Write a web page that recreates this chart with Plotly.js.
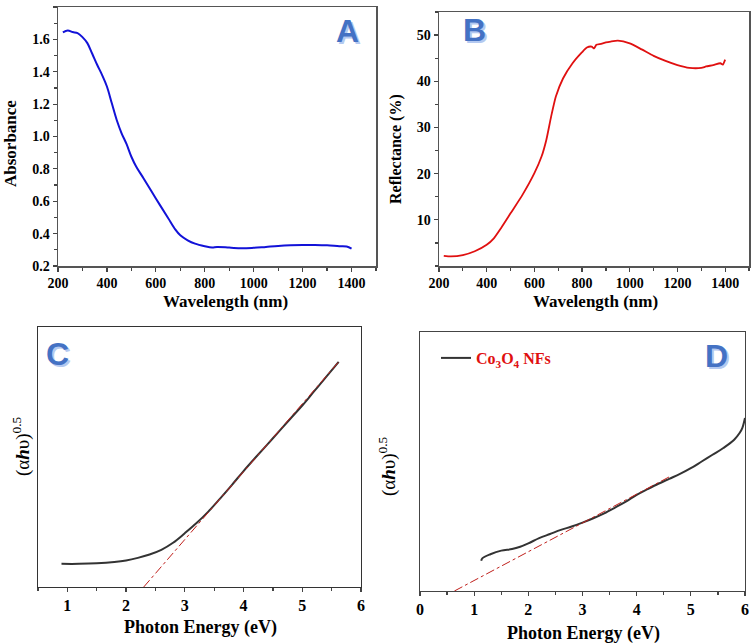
<!DOCTYPE html>
<html>
<head>
<meta charset="utf-8">
<script src="https://cdn.plot.ly/plotly-3.0.1.min.js"></script>
<style>html,body{margin:0;padding:0;background:#fff;}#chart{width:756px;height:644px;}</style>
</head>
<body>
<div id="chart"></div>
<script>
// Panel A: absorbance vs wavelength
const wavelengthA = [220,240,260,280,300,320,340,360,380,400,420,440,460,480,500,520,550,600,650,680,700,730,760,800,830,850,900,950,1000,1050,1100,1150,1200,1250,1300,1350,1380,1400];
const absorbanceA = [1.643,1.655,1.645,1.639,1.614,1.577,1.511,1.443,1.381,1.309,1.205,1.102,1.020,0.954,0.875,0.813,0.741,0.617,0.497,0.425,0.390,0.359,0.338,0.322,0.314,0.318,0.314,0.309,0.312,0.318,0.324,0.328,0.330,0.330,0.328,0.322,0.320,0.307];

// Panel B: reflectance vs wavelength
const wavelengthB = [220,250,300,350,400,430,460,500,550,600,630,650,670,690,720,760,800,820,840,850,860,880,900,920,950,1000,1050,1100,1150,1200,1250,1300,1320,1350,1380,1390,1400];
const reflectanceB = [2.2,2.07,2.36,3.2,4.6,6.0,8.2,11.4,15.4,20.1,23.7,27.3,32.3,36.7,40.6,43.9,46.3,47.3,47.5,47.1,47.9,48.1,48.4,48.6,48.8,48.2,46.9,45.5,44.4,43.5,42.9,42.9,43.2,43.5,43.9,43.6,44.7];

// Panel C: Tauc plot
const energyC = [0.9,1.2,1.5,1.8,2.0,2.2,2.4,2.6,2.8,3.0,3.2,3.4,3.6,3.8,4.0,4.2,4.5,4.8,5.0,5.2,5.4,5.62];
const taucC = [0.089,0.089,0.091,0.096,0.102,0.112,0.125,0.143,0.170,0.207,0.246,0.290,0.340,0.392,0.446,0.497,0.572,0.648,0.698,0.752,0.806,0.866];
const fitEnergyC = [2.3,5.62];
const fitTaucC = [0.0,0.866];

// Panel D: Tauc plot with legend
const energyD = [1.13,1.15,1.3,1.5,1.7,1.85,2.0,2.2,2.4,2.6,2.8,3.0,3.2,3.4,3.6,3.8,4.0,4.2,4.4,4.6,4.8,5.0,5.2,5.4,5.6,5.8,5.9,5.95,6.0];
const taucD = [0.117,0.126,0.142,0.156,0.162,0.171,0.184,0.204,0.220,0.236,0.249,0.264,0.281,0.300,0.322,0.345,0.371,0.393,0.414,0.433,0.452,0.474,0.500,0.526,0.552,0.584,0.610,0.629,0.668];
const fitEnergyD = [0.635,4.64];
const fitTaucD = [0.0,0.445];

// Tick labels
const wavelengthTicks = [200,400,600,800,1000,1200,1400];
const absorbanceTicks = [0.2,0.4,0.6,0.8,1.0,1.2,1.4,1.6,1.8];
const absorbanceTickText = ['0.2','0.4','0.6','0.8','1.0','1.2','1.4','1.6','1.8'];
const reflectanceTicks = [10,20,30,40,50];
const energyTicksC = [1,2,3,4,5,6];
const energyTicksD = [0,1,2,3,4,5,6];

const legendNameD = 'Co<sub>3</sub>O<sub>4</sub> NFs';
const panelLetters = ['A','B','C','D'];

const W = 756, H = 644;
const px = v => v / W;
const py = v => 1 - v / H;
const serif = 'Liberation Serif';

const traces = [
  {x: wavelengthA, y: absorbanceA, xaxis:'x', yaxis:'y', mode:'lines', line:{color:'#1212d8', width:2, shape:'spline'}, showlegend:false},
  {x: wavelengthB, y: reflectanceB, xaxis:'x2', yaxis:'y2', mode:'lines', line:{color:'#e01010', width:1.8, shape:'spline', smoothing:0.6}, showlegend:false},
  {x: energyC, y: taucC, xaxis:'x3', yaxis:'y3', mode:'lines', line:{color:'#333333', width:2, shape:'spline'}, showlegend:false},
  {x: fitEnergyC, y: fitTaucC, xaxis:'x3', yaxis:'y3', mode:'lines', line:{color:'#c0201c', width:1, dash:'dashdot'}, showlegend:false},
  {x: energyD, y: taucD, xaxis:'x4', yaxis:'y4', mode:'lines', name: legendNameD, line:{color:'#333333', width:2, shape:'spline'}, showlegend:true},
  {x: fitEnergyD, y: fitTaucD, xaxis:'x4', yaxis:'y4', mode:'lines', line:{color:'#c0201c', width:1, dash:'dashdot'}, showlegend:false}
];

function tf(size){ return {family:serif, size:size, color:'#000000', weight:'bold'}; }
const axBase = {
  showgrid:false, zeroline:false, showline:true, mirror:true,
  linecolor:'#555555', linewidth:1.5,
  ticks:'outside', ticklen:4, tickwidth:1.2, tickcolor:'#444444',
  automargin:false, fixedrange:true
};
function ax(extra){ return Object.assign({tickfont: tf(14)}, axBase, extra); }
const minorT = (d, t0) => ({dtick:d, tick0:t0, ticks:'outside', ticklen:3, tickcolor:'#444444'});

const layout = {
  width: W, height: H,
  margin:{l:0,r:0,t:0,b:0},
  paper_bgcolor:'#ffffff', plot_bgcolor:'#ffffff',
  font:{family:serif, size:14, color:'#000000', weight:'bold'},
  showlegend:true,
  legend:{x:px(436), y:py(341), xanchor:'left', yanchor:'top', bgcolor:'rgba(0,0,0,0)',
          font:{family:serif, size:16, color:'#e01010', weight:'bold'}, itemwidth:30, tracegroupgap:0},
  xaxis: ax({domain:[px(58),px(376)], range:[200,1500], tickvals:wavelengthTicks, anchor:'y', minor:minorT(100,200)}),
  yaxis: ax({domain:[py(266),py(7)], range:[0.2,1.8], tickvals:absorbanceTicks, ticktext:absorbanceTickText, anchor:'x', minor:minorT(0.1,0.2)}),
  xaxis2: ax({domain:[px(439),px(749)], range:[200,1500], tickvals:wavelengthTicks, anchor:'y2', minor:minorT(100,200)}),
  yaxis2: ax({domain:[py(266),py(12)], range:[0,55], tickvals:reflectanceTicks, anchor:'x2', minor:minorT(5,0)}),
  xaxis3: ax({domain:[px(38),px(361)], range:[0.5,6], tickvals:energyTicksC, anchor:'y3', linecolor:'#333333', linewidth:1.2,
             tickfont: tf(16), minor:minorT(0.5,0.5)}),
  yaxis3: ax({domain:[py(587),py(327)], range:[0,1], showticklabels:false, ticks:'', anchor:'x3', linecolor:'#333333', linewidth:1.2}),
  xaxis4: ax({domain:[px(420),px(745)], range:[0,6], tickvals:energyTicksD, anchor:'y4', linecolor:'#444444', linewidth:1.2,
             tickfont: tf(16), minor:minorT(0.5,0)}),
  yaxis4: ax({domain:[py(591),py(332)], range:[0,1], showticklabels:false, ticks:'', anchor:'x4', linecolor:'#444444', linewidth:1.2}),
  annotations: []
};

function txt(text, x, y, size, extra){
  return Object.assign({text:text, xref:'paper', yref:'paper', x:px(x), y:py(y), xanchor:'center', yanchor:'middle',
    showarrow:false, font:{family:serif, size:size, color:'#000000', weight:'bold'}}, extra||{});
}
const ann = layout.annotations;
ann.push(txt('Wavelength (nm)', 225, 301, 17));
ann.push(txt('Absorbance', 10, 144, 17, {textangle:-90}));
ann.push(txt('Wavelength (nm)', 595, 301, 17));
ann.push(txt('Reflectance (%)', 396, 149, 16, {textangle:-90}));
ann.push(txt('Photon Energy (eV)', 200, 627, 18));
ann.push(txt('Photon Energy (eV)', 583, 633, 18));
const tauc = '(α<b><i>h</i></b>υ)<sup>0.5</sup>';
ann.push(txt(tauc, 21, 446, 19, {textangle:-90, font:{family:serif, size:19, color:'#000000', weight:'normal'}}));
ann.push(txt(tauc, 387, 466, 19, {textangle:-90, font:{family:serif, size:19, color:'#000000', weight:'normal'}}));

const letterPos = [[347,31],[475,30],[57,354],[716,356]];
panelLetters.forEach((L,i)=>{
  const [x,y] = letterPos[i];
  ann.push(txt(L, x, y, 32, {font:{family:'Liberation Sans', size:32, color:'#4472c4', weight:'bold',
    shadow:'2px 2px 0 #b4c9f0'}}));
});

Plotly.newPlot('chart', traces, layout, {displayModeBar:false, staticPlot:true});
</script>
</body>
</html>
